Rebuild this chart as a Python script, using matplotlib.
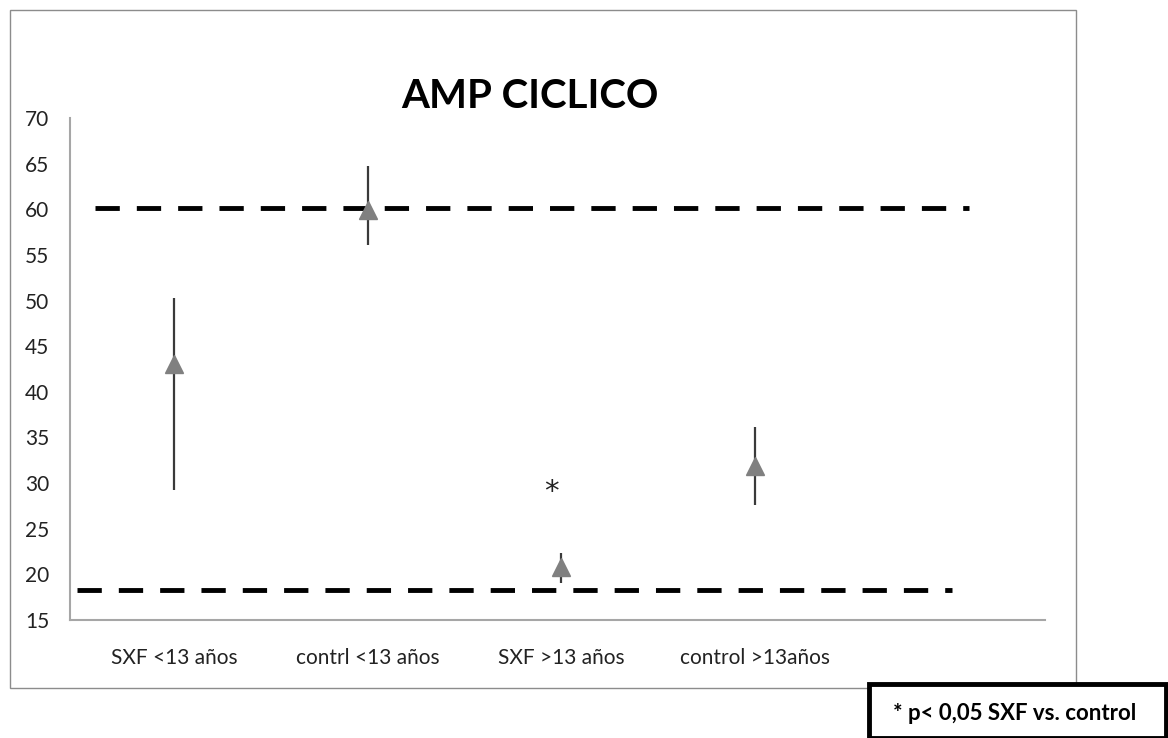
import matplotlib
matplotlib.use("Agg")
import matplotlib.pyplot as plt
from matplotlib.patches import Rectangle

categories = ["SXF <13 años", "contrl <13 años", "SXF >13 años", "control >13años"]
means = [43.0, 59.9, 20.8, 31.9]
err_low = [13.8, 3.8, 1.7, 4.3]
err_high = [7.3, 4.8, 1.5, 4.3]
ref_high = 60.1
ref_low = 18.3
yticks = [15, 20, 25, 30, 35, 40, 45, 50, 55, 60, 65, 70]

plt.rcParams['font.family'] = ['Lato', 'DejaVu Sans']

fig = plt.figure(figsize=(11.68, 7.38), dpi=100)
fig.patches.append(Rectangle((10/1168, 1-688/738), 1066/1168, 678/738,
                             transform=fig.transFigure, fill=False,
                             edgecolor='#8c8c8c', linewidth=1.0))

ax = fig.add_axes([70/1168, 118/738, 975/1168, 502/738])
x = list(range(len(categories)))

ax.axhline(ref_high, xmin=0.026, xmax=0.922, color='black', linewidth=3.5,
           dashes=(5.0, 3.5), zorder=1)
ax.axhline(ref_low, xmin=0.007, xmax=0.905, color='black', linewidth=3.5,
           dashes=(5.0, 3.5), zorder=1)

ax.errorbar(x, means, yerr=[err_low, err_high], fmt='none', ecolor='#3a3a3a',
            elinewidth=1.6, capsize=0, zorder=2)
ax.plot(x, means, linestyle='none', marker='^', markersize=13,
        color='#808080', zorder=3)

ax.text(1.95, 29.0, "*", ha='center', va='center', fontsize=21,
        family=['DejaVu Sans'], color='#222222')

ax.set_xlim(-0.54, 4.5)
ax.set_ylim(15, 70)
ax.set_yticks(yticks)
ax.set_xticks(x)
ax.set_xticklabels(categories)
ax.tick_params(axis='both', length=0, labelsize=15, colors='#222222')
ax.tick_params(axis='x', pad=20)
ax.tick_params(axis='y', pad=15)
for s in ['top', 'right']:
    ax.spines[s].set_visible(False)
for s in ['left', 'bottom']:
    ax.spines[s].set_color('#a6a6a6')
    ax.spines[s].set_linewidth(1.5)

fig.text(530/1168, 1-96/738, "AMP CICLICO", ha='center', va='center',
         fontsize=29, fontweight='bold', color='black')

fig.patches.append(Rectangle((869/1168, 0.0), 297/1168, 54/738,
                             transform=fig.transFigure, fill=True,
                             facecolor='white', edgecolor='black',
                             linewidth=3.5, zorder=5))
fig.text(1015/1168, 1-713/738, "* p< 0,05 SXF vs. control", ha='center',
         va='center', fontsize=16, fontweight='bold', color='black', zorder=6)

fig.savefig("out.png", dpi=100)
